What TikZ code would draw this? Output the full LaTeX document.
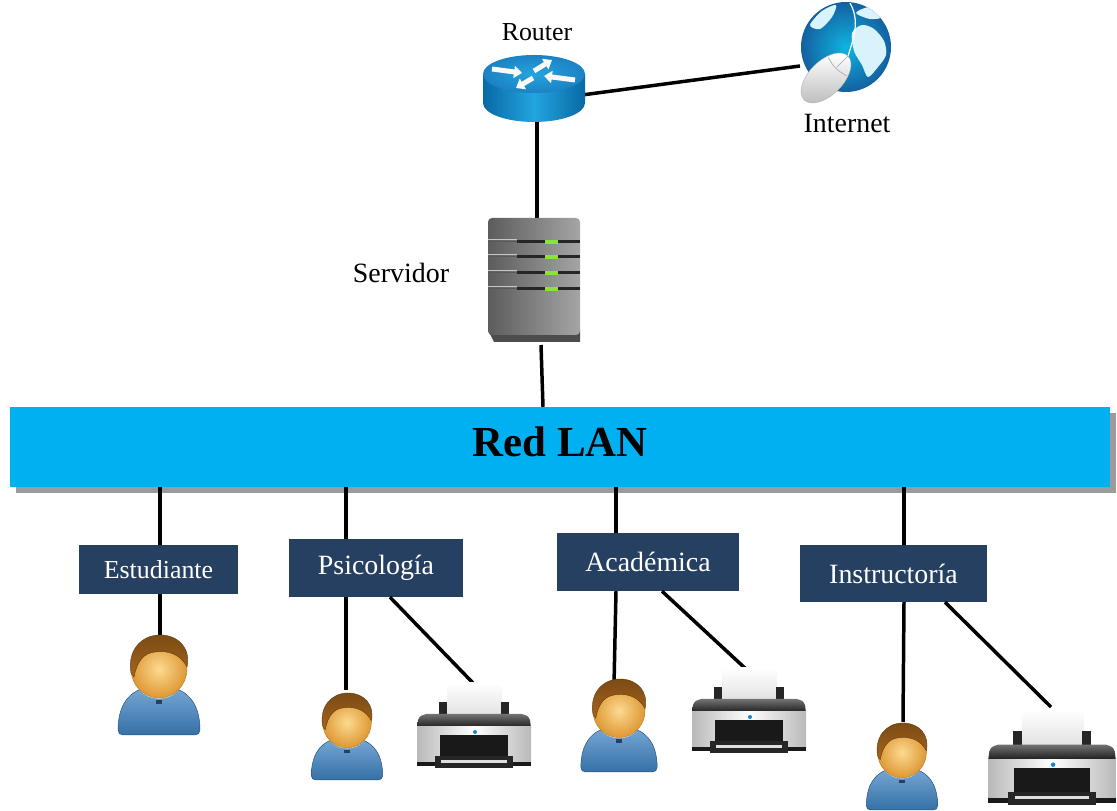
\documentclass[tikz,border=0pt]{standalone}
\usepackage{fontspec}
\setmainfont{Liberation Serif}
\usetikzlibrary{positioning,shadows,arrows.meta}

\definecolor{lanblue}{RGB}{0,176,240}
\definecolor{boxblue}{RGB}{38,64,97}
\definecolor{lanshadow}{RGB}{155,155,155}
\definecolor{routerdark}{RGB}{8,105,165}
\definecolor{routerlight}{RGB}{35,165,222}
\definecolor{routertop}{RGB}{28,130,196}
\definecolor{globeblue}{RGB}{25,120,200}
\definecolor{shirt}{RGB}{62,132,196}
\definecolor{hair}{RGB}{165,100,28}
\definecolor{skinlight}{RGB}{252,218,145}
\definecolor{skindark}{RGB}{222,152,52}
\definecolor{serverdark}{RGB}{92,92,92}
\definecolor{serverlight}{RGB}{165,165,165}
\definecolor{ledgreen}{RGB}{135,228,60}

\newcommand{\fsize}[1]{\fontsize{#1}{#1}\selectfont}

\tikzset{
  wire/.style={line width=3.5pt, black},
  dept/.style={fill=boxblue, text=white, inner sep=0pt, font=\fsize{28}},
  caption/.style={font=\fsize{28}},
  % person icon, origin at bottom centre, 82 wide and 100 high
  user/.pic={
    \shade[top color=shirt!70!white, bottom color=shirt!85!black, draw=shirt!65!black, line width=0.5pt]
      (-41,5) .. controls (-41,32) and (-28,49) .. (0,49) .. controls (28,49) and (41,32) .. (41,5)
      .. controls (41,2) and (39,0) .. (36,0) -- (-36,0) .. controls (-39,0) and (-41,2) .. (-41,5) -- cycle;
    \fill[gray!10] (-20,46) .. controls (-11,33) and (11,33) .. (20,46) -- cycle;
    \fill[boxblue] (-3,31) rectangle (3,35);
    \shade[inner color=skinlight, outer color=skindark, draw=skindark!80!black, line width=0.4pt]
      (0,66) ellipse[x radius=28, y radius=29];
    \shade[top color=hair!75!black, bottom color=hair, draw=hair!60!black, line width=0.4pt]
      (-28,62) .. controls (-32,84) and (-18,100) .. (1,100) .. controls (20,100) and (32,86) .. (28,68)
      .. controls (22,80) and (10,85) .. (-4,83) .. controls (-15,82) and (-22,74) .. (-25,58) -- cycle;
  },
  % printer icon, origin at bottom centre, 114 wide and 85 high
  printer/.pic={
    \shade[top color=white, bottom color=gray!25] (-27,50) rectangle (28,85);
    \fill[black!85] (-35,52) rectangle (-27,66);
    \fill[black!85] (27,52) rectangle (35,66);
    \shade[top color=black!55, bottom color=black!90]
      (-57,40) -- (-56,48) .. controls (-54,52) .. (-48,54) -- (48,54) .. controls (54,52) .. (56,48) -- (57,40) -- cycle;
    \shade[left color=gray!55, right color=gray!55, middle color=white] (-57,4) rectangle (57,41);
    \fill[black!90] (-57,2) rectangle (57,6);
    \fill[black!90] (-34,10) rectangle (34,33);
    \fill[black!85] (-39,0) rectangle (39,12);
    \fill[gray!25] (-33,5) rectangle (33,8);
    \fill[cyan!70!blue] (1,36) circle (2);
  },
  % router icon, origin at centre of the top face
  router/.pic={
    \shade[left color=routerdark, right color=routerdark, middle color=routerlight]
      (-51,0) -- (-51,-29) arc[start angle=180, end angle=360, x radius=51, y radius=19] -- (51,0) -- cycle;
    \shade[inner color=routerlight, outer color=routertop] (0,0) ellipse[x radius=51, y radius=19];
    \begin{scope}[white!95!gray, line width=5pt, -{Triangle[width=12pt,length=8pt]}]
      \draw (-42,5) -- (-12,1);
      \draw (0,3) -- (18,14);
      \draw (41,-6) -- (10,-2);
      \draw (-1,-4) -- (-18,-14);
    \end{scope}
  },
  % globe with mouse, origin at globe centre
  globe/.pic={
    \shade[inner color=globeblue!55!cyan, outer color=globeblue!80!black] (0,0) circle (45);
    \begin{scope}
      \clip (0,0) circle (45);
      \fill[white!85!cyan] plot[smooth cycle] coordinates
        {(6,14) (16,22) (28,18) (38,6) (40,-8) (32,-20) (22,-30) (16,-18) (8,-4)};
      \fill[white!85!cyan] plot[smooth cycle] coordinates
        {(-36,22) (-24,36) (-10,42) (-14,30) (-26,18)};
      \fill[white!85!cyan] plot[smooth cycle] coordinates
        {(10,34) (24,40) (36,30) (24,28)};
    \end{scope}
    \draw[white, line width=1.2pt] (2,-9) .. controls (8,10) and (14,26) .. (4,44);
    \begin{scope}[shift={(-20,-31)}, rotate=45]
      \shade[top color=white, bottom color=gray!50, draw=gray!60, line width=0.4pt]
        (0,0) ellipse[x radius=31, y radius=17];
      \draw[gray!70, line width=0.6pt] (16,-13) .. controls (13,0) .. (16,13);
      \draw[gray!70, line width=0.6pt] (15,0) -- (31,0);
    \end{scope}
  },
  % server tower, origin at centre
  server/.pic={
    \fill[black!70] (-40,-62) -- (46,-62) -- (46,-50) -- (-46,-50) -- cycle;
    \shade[left color=serverdark, right color=serverlight, rounded corners=4pt] (-46,-55) rectangle (46,62);
    \foreach \y in {38,23,7,-9}{
      \fill[black!85] (-17,\y-1.5) rectangle (46,\y+1.5);
      \fill[ledgreen] (11,\y-2) rectangle (24,\y+2);
      \draw[gray!45, line width=1pt] (-46,\y+2) -- (-17,\y+2);
      \draw[black!65, line width=1pt] (-46,\y) -- (-17,\y);
    }
  }
}

\begin{document}
\begin{tikzpicture}[x=1bp, y=1bp]
  \useasboundingbox (0,0) rectangle (1117,811);

  % backbone
  \node[fill=lanblue, minimum width=1100bp, minimum height=80bp, inner sep=0pt,
        font=\fsize{43}\bfseries, text depth=10bp,
        drop shadow={shadow xshift=6bp, shadow yshift=-6bp, fill=lanshadow, opacity=1}]
    (lan) at (560,364) {Red LAN};

  % departments
  \node[dept, font=\fsize{26}, minimum width=159bp, minimum height=49bp] (est) at (158.5,241.5) {Estudiante};
  \node[dept, minimum width=174bp, minimum height=58bp] (psi) at (376,243) {Psicología};
  \node[dept, minimum width=182bp, minimum height=58bp] (aca) at (648,249) {Académica};
  \node[dept, minimum width=187bp, minimum height=57bp] (ins) at (893.5,237.5) {Instructoría};

  % captions
  \node[caption, font=\fsize{26}] (routerlbl) at (537,779) {Router};
  \node[caption] (netlbl) at (847,687) {Internet};
  \node[caption] (srvlbl) at (401,538) {Servidor};

  % wire ends
  \coordinate (routerbot) at (537,689);
  \coordinate (routerright) at (582,716);
  \coordinate (globeleft) at (800,745);
  \coordinate (servertop) at (537,593);
  \coordinate (serverbot) at (541,466);
  \coordinate (lanin) at (543,0);
  \coordinate (esttap) at (160,0);
  \coordinate (psitap) at (346,0);
  \coordinate (psiout) at (390,0);
  \coordinate (acatap) at (616,0);
  \coordinate (acaout) at (662,0);
  \coordinate (instap) at (904,0);
  \coordinate (insout) at (945,0);
  \coordinate (estuser) at (160,176);
  \coordinate (psiuser) at (346,121);
  \coordinate (psiprn) at (473,128);
  \coordinate (acauser) at (614,126);
  \coordinate (acaprn) at (747,141);
  \coordinate (insuser) at (903,89);
  \coordinate (insprn) at (1051,104);

  % wires
  \draw[wire] (routerright) -- (globeleft);
  \draw[wire] (routerbot) -- (servertop);
  \draw[wire] (serverbot) -- (lan.north -| lanin);
  \draw[wire] (lan.south -| esttap) -- (est.north -| esttap);
  \draw[wire] (lan.south -| psitap) -- (psi.north -| psitap);
  \draw[wire] (lan.south -| acatap) -- (aca.north -| acatap);
  \draw[wire] (lan.south -| instap) -- (ins.north -| instap);
  \draw[wire] (est.south -| esttap) -- (estuser);
  \draw[wire] (psi.south -| psitap) -- (psiuser);
  \draw[wire] (psi.south -| psiout) -- (psiprn);
  \draw[wire] (aca.south -| acatap) -- (acauser);
  \draw[wire] (aca.south -| acaout) -- (acaprn);
  \draw[wire] (ins.south -| instap) -- (insuser);
  \draw[wire] (ins.south -| insout) -- (insprn);

  % devices
  \pic at (534,737) {router};
  \pic at (846,764) {globe};
  \pic at (534,531) {server};
  \pic at (159,76) {user};
  \pic[scale=0.87] at (347,31) {user};
  \pic[scale=0.93] at (619,39) {user};
  \pic[scale=0.87] at (902,1) {user};
  \pic at (474,43) {printer};
  \pic at (749,58) {printer};
  \pic[scale=1.12] at (1052,6) {printer};
\end{tikzpicture}
\end{document}
